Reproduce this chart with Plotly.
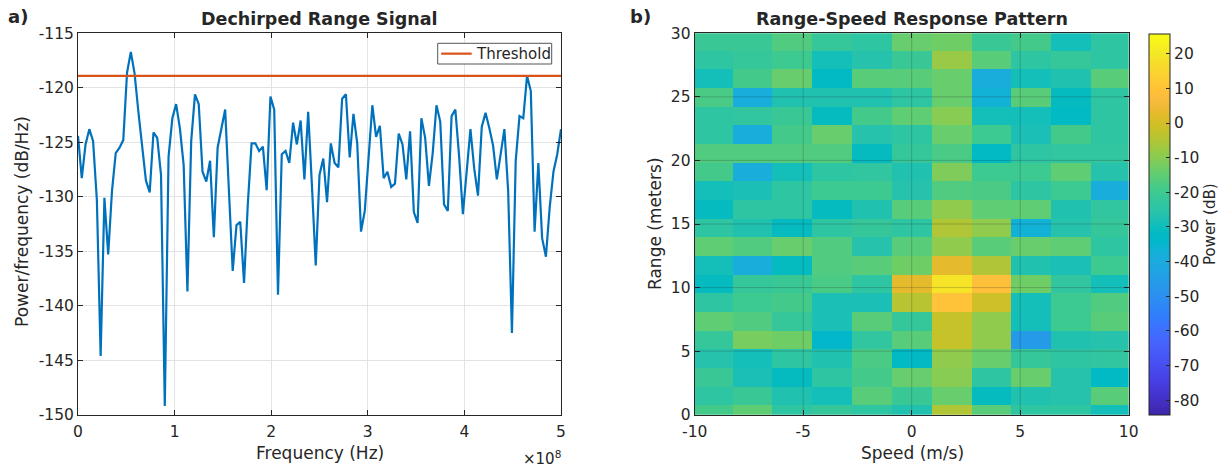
import numpy as np
import plotly.graph_objects as go

# ---------------- data ----------------
# Dechirped range spectrum (dB/Hz), 129 bins spanning 0 .. 5e8 Hz
fs_half = 5e8
psd_db = [
    -124.4, -128.3, -125.2, -123.8, -124.9, -130.3, -144.6, -130.1, -135.3, -129.5,
    -126.0, -125.5, -124.8, -118.6, -116.7, -118.7, -122.2, -125.5, -128.5, -129.6,
    -124.1, -124.6, -128.0, -149.2, -126.3, -122.8, -121.5, -123.7, -127.1, -138.7,
    -124.9, -120.6, -121.5, -127.7, -128.6, -126.7, -133.7, -125.5, -123.7, -122.0,
    -129.5, -136.8, -132.6, -132.3, -137.9, -130.7, -125.1, -125.1, -125.8, -125.4,
    -129.4, -120.8, -122.0, -139.0, -126.1, -125.8, -126.9, -123.2, -125.2, -123.0,
    -128.4, -122.2, -129.0, -136.3, -128.0, -126.5, -130.5, -125.1, -126.9, -127.3,
    -121.0, -120.6, -126.4, -122.4, -125.1, -133.2, -131.3, -126.7, -121.6, -124.5,
    -123.5, -128.3, -127.7, -129.1, -128.8, -124.2, -125.2, -128.4, -124.0, -131.4,
    -132.4, -122.8, -124.6, -129.0, -126.0, -121.6, -123.1, -130.7, -131.3, -122.6,
    -122.0, -126.3, -131.6, -127.7, -123.8, -127.4, -129.9, -123.6, -122.3, -123.7,
    -125.3, -128.4, -126.0, -123.8, -129.5, -142.5, -126.7, -122.6, -122.8, -118.9,
    -120.3, -133.2, -126.9, -133.8, -135.5, -131.0, -127.7, -126.1, -123.8,
]
threshold_db = -118.9
threshold_name = "Threshold"
freq_hz = np.linspace(0, fs_half, len(psd_db))

freq_ticks = [0, 1e8, 2e8, 3e8, 4e8, 5e8]
freq_ticklabels = ["0", "1", "2", "3", "4", "5"]
psd_ticks = [-150, -145, -140, -135, -130, -125, -120, -115]

# Range-speed response (dB); rows ordered by increasing range, columns by speed
speed_step = 1.834
range_step = 1.468
speed_bins = [k * speed_step for k in range(-5, 6)]
range_bins = [r * range_step for r in range(21)]
response_db = [
    [-19, -15, -24, -22, -24, -27, -5, -16, -24, -24, -29],   # 0.0 m
    [-24, -21, -27, -29, -16, -21, -14, -31, -27, -26, -16],
    [-21, -28, -31, -24, -19, -14, -10, -24, -14, -26, -32],
    [-26, -29, -24, -27, -18, -32, -9, -14, -22, -24, -23],
    [-22, -12, -13, -34, -23, -16, -2, -9, -46, -27, -26],
    [-15, -17, -22, -28, -16, -22, -2, -9, -29, -20, -16],   # 7.3 m
    [-24, -20, -19, -28, -28, -4, 10, -1, -29, -20, -17],
    [-31, -22, -21, -18, -24, 3, 19, 9, -13, -23, -29],      # 10.3 m
    [-29, -39, -31, -17, -16, -13, 3, -5, -27, -28, -20],
    [-15, -17, -14, -17, -26, -16, -9, -16, -14, -15, -24],
    [-24, -27, -31, -24, -22, -24, -5, -9, -37, -26, -22],   # 14.7 m
    [-31, -24, -24, -31, -27, -16, -9, -15, -15, -27, -23],
    [-29, -28, -24, -20, -20, -26, -17, -18, -24, -20, -39],
    [-19, -39, -29, -24, -23, -27, -11, -20, -20, -15, -26],
    [-17, -17, -17, -17, -31, -22, -18, -32, -24, -23, -23],
    [-24, -39, -19, -14, -26, -24, -14, -20, -28, -19, -24],  # 22.0 m
    [-24, -23, -21, -31, -19, -15, -10, -29, -29, -32, -24],
    [-18, -39, -27, -27, -27, -24, -14, -37, -16, -31, -24],
    [-29, -19, -14, -32, -16, -16, -14, -39, -29, -27, -16],
    [-24, -22, -20, -29, -26, -21, -8, -16, -24, -22, -24],
    [-21, -21, -17, -22, -24, -14, -13, -21, -19, -29, -24],  # 29.4 m
]
clim = [-84.2, 25.8]
cbar_ticks = [-80, -70, -60, -50, -40, -30, -20, -10, 0, 10, 20]
speed_ticks = [-10, -5, 0, 5, 10]
range_ticks = [0, 5, 10, 15, 20, 25, 30]

# parula colormap (64 entries)
parula = [
    (0.2422, 0.1504, 0.6603), (0.2504, 0.1650, 0.7076), (0.2578, 0.1818, 0.7511),
    (0.2647, 0.1978, 0.7952), (0.2706, 0.2147, 0.8364), (0.2751, 0.2342, 0.8710),
    (0.2783, 0.2559, 0.8991), (0.2803, 0.2782, 0.9221), (0.2813, 0.3006, 0.9414),
    (0.2810, 0.3228, 0.9579), (0.2795, 0.3447, 0.9717), (0.2760, 0.3667, 0.9829),
    (0.2699, 0.3892, 0.9906), (0.2602, 0.4123, 0.9952), (0.2440, 0.4358, 0.9988),
    (0.2206, 0.4603, 0.9973), (0.1963, 0.4847, 0.9892), (0.1834, 0.5074, 0.9798),
    (0.1786, 0.5289, 0.9682), (0.1764, 0.5499, 0.9520), (0.1687, 0.5703, 0.9359),
    (0.1540, 0.5902, 0.9218), (0.1460, 0.6091, 0.9079), (0.1380, 0.6276, 0.8973),
    (0.1248, 0.6459, 0.8883), (0.1113, 0.6635, 0.8763), (0.0952, 0.6798, 0.8598),
    (0.0689, 0.6948, 0.8394), (0.0297, 0.7082, 0.8163), (0.0036, 0.7203, 0.7917),
    (0.0067, 0.7312, 0.7660), (0.0433, 0.7411, 0.7394), (0.0964, 0.7500, 0.7120),
    (0.1408, 0.7584, 0.6842), (0.1717, 0.7670, 0.6554), (0.1938, 0.7758, 0.6251),
    (0.2161, 0.7843, 0.5923), (0.2470, 0.7918, 0.5567), (0.2906, 0.7973, 0.5188),
    (0.3406, 0.8008, 0.4789), (0.3909, 0.8029, 0.4354), (0.4456, 0.8024, 0.3909),
    (0.5044, 0.7993, 0.3480), (0.5616, 0.7942, 0.3045), (0.6174, 0.7876, 0.2612),
    (0.6720, 0.7793, 0.2227), (0.7242, 0.7698, 0.1910), (0.7738, 0.7598, 0.1646),
    (0.8203, 0.7498, 0.1535), (0.8634, 0.7406, 0.1596), (0.9035, 0.7330, 0.1774),
    (0.9393, 0.7288, 0.2100), (0.9728, 0.7298, 0.2394), (0.9956, 0.7434, 0.2371),
    (0.9970, 0.7659, 0.2199), (0.9952, 0.7893, 0.2028), (0.9892, 0.8136, 0.1885),
    (0.9786, 0.8386, 0.1766), (0.9676, 0.8639, 0.1643), (0.9610, 0.8890, 0.1537),
    (0.9597, 0.9135, 0.1423), (0.9628, 0.9373, 0.1265), (0.9691, 0.9606, 0.1064),
    (0.9769, 0.9839, 0.0805),
]
parula_scale = [
    [i / (len(parula) - 1), "rgb(%d,%d,%d)" % tuple(round(255 * c) for c in rgb)]
    for i, rgb in enumerate(parula)
]

# ---------------- layout geometry ----------------
W, H = 1226, 468
def px_x(p):
    return p / W
def px_y(p):
    return 1 - p / H

FONT = "DejaVu Sans"
TXT = "#262626"
AX_COLOR = "#262626"
GRID = "#e3e3e3"
TICK_SIZE = 15.5
LABEL_SIZE = 17
BLUE = "#0072BD"
ORANGE = "#D95319"

ax_bottom, ax_top = 414.7, 33.3
dom_y = [px_y(ax_bottom), px_y(ax_top)]
dom_x1 = [px_x(78), px_x(561)]
dom_x2 = [px_x(694.7), px_x(1128.7)]

fig = go.Figure()

fig.add_trace(go.Scatter(
    x=freq_hz, y=psd_db, mode="lines",
    line=dict(color=BLUE, width=2.2),
    showlegend=False, xaxis="x", yaxis="y",
))
fig.add_trace(go.Scatter(
    x=[freq_hz[0], freq_hz[-1]], y=[threshold_db, threshold_db], mode="lines",
    line=dict(color=ORANGE, width=2.2), name=threshold_name, showlegend=False,
    xaxis="x", yaxis="y",
))

fig.add_trace(go.Heatmap(
    x=speed_bins, y=range_bins, z=response_db,
    colorscale=parula_scale, zmin=clim[0], zmax=clim[1],
    xaxis="x2", yaxis="y2",
    colorbar=dict(
        x=px_x(1149.3), xanchor="left", xref="paper", xpad=0, ypad=0,
        y=dom_y[0], yanchor="bottom", yref="paper",
        len=dom_y[1] - dom_y[0], lenmode="fraction",
        thickness=20.5, thicknessmode="pixels",
        outlinecolor=AX_COLOR, outlinewidth=1,
        tickvals=cbar_ticks, ticktext=[str(v) for v in cbar_ticks],
        ticks="inside", ticklen=4, tickcolor=AX_COLOR,
        tickfont=dict(family=FONT, size=TICK_SIZE, color=TXT),
        title=dict(text="Power (dB)", side="right",
                   font=dict(family=FONT, size=15, color=TXT)),
    ),
    hoverongaps=False,
))

axis_common = dict(
    showline=True, linecolor=AX_COLOR, linewidth=1, mirror="ticks",
    ticks="inside", ticklen=5, tickcolor=AX_COLOR,
    tickfont=dict(family=FONT, size=TICK_SIZE, color=TXT),
    zeroline=False, automargin=False,
)

fig.update_layout(
    width=W, height=H,
    margin=dict(l=0, r=0, t=0, b=0, autoexpand=False),
    paper_bgcolor="white", plot_bgcolor="white",
    font=dict(family=FONT, color=TXT),
    showlegend=False,
    xaxis=dict(
        domain=dom_x1, range=[0, fs_half], tickvals=freq_ticks, ticktext=freq_ticklabels,
        showgrid=True, gridcolor=GRID, anchor="y", ticklabelstandoff=3, **axis_common,
    ),
    yaxis=dict(
        domain=dom_y, range=[-150, -115], tickvals=psd_ticks,
        ticktext=[str(v) for v in psd_ticks],
        showgrid=True, gridcolor=GRID, anchor="x", **axis_common,
    ),
    xaxis2=dict(
        domain=dom_x2, range=[-10, 10], tickvals=speed_ticks,
        ticktext=[str(v) for v in speed_ticks],
        showgrid=False, anchor="y2", ticklabelstandoff=3, **axis_common,
    ),
    yaxis2=dict(
        domain=dom_y, range=[0, 30], tickvals=range_ticks,
        showgrid=False, anchor="x2", **axis_common,
    ),
)

shapes = []
# grid lines drawn over the image
for v in speed_ticks[1:-1]:
    shapes.append(dict(type="line", xref="x2", yref="y2", x0=v, x1=v, y0=0, y1=30,
                       line=dict(color="rgba(30,30,30,0.22)", width=1), layer="above"))
for v in range_ticks[1:-1]:
    shapes.append(dict(type="line", xref="x2", yref="y2", x0=-10, x1=10, y0=v, y1=v,
                       line=dict(color="rgba(30,30,30,0.22)", width=1), layer="above"))
# legend box for the threshold line
leg_l, leg_r, leg_t, leg_b = 437.7, 551.7, 43.3, 64.0
leg_mid = (leg_t + leg_b) / 2
shapes.append(dict(type="rect", xref="paper", yref="paper",
                   x0=px_x(leg_l), x1=px_x(leg_r), y0=px_y(leg_b), y1=px_y(leg_t),
                   line=dict(color="#555555", width=1), fillcolor="white", layer="above"))
shapes.append(dict(type="line", xref="paper", yref="paper",
                   x0=px_x(leg_l + 3.5), x1=px_x(leg_l + 34), y0=px_y(leg_mid), y1=px_y(leg_mid),
                   line=dict(color=ORANGE, width=2.2), layer="above"))
fig.update_layout(shapes=shapes)

# titles, axis labels, panel letters, legend text and the axis exponent
ann = [
    dict(text="<b>Dechirped Range Signal</b>", x=px_x((78 + 561) / 2), y=px_y(19),
         xanchor="center", yanchor="middle", font=dict(size=17.5)),
    dict(text="<b>Range-Speed Response Pattern</b>", x=px_x((694.7 + 1128.7) / 2), y=px_y(19),
         xanchor="center", yanchor="middle", font=dict(size=17.5)),
    dict(text="<b>a)</b>", x=px_x(6), y=px_y(17), xanchor="left", yanchor="middle",
         font=dict(size=18)),
    dict(text="<b>b)</b>", x=px_x(628), y=px_y(17), xanchor="left", yanchor="middle",
         font=dict(size=18)),
    dict(text="Frequency (Hz)", x=px_x(319.5), y=px_y(453), xanchor="center",
         yanchor="middle", font=dict(size=LABEL_SIZE)),
    dict(text="Speed (m/s)", x=px_x(912), y=px_y(453), xanchor="center",
         yanchor="middle", font=dict(size=LABEL_SIZE)),
    dict(text="Power/frequency (dB/Hz)", x=px_x(22), y=px_y(222), xanchor="center",
         yanchor="middle", textangle=-90, font=dict(size=LABEL_SIZE)),
    dict(text="Range (meters)", x=px_x(655), y=px_y(224), xanchor="center",
         yanchor="middle", textangle=-90, font=dict(size=LABEL_SIZE)),
    dict(text="\u00d710<sup>8</sup>", x=px_x(563), y=px_y(458), xanchor="right",
         yanchor="middle", font=dict(size=15)),
    dict(text=threshold_name, x=px_x(leg_l + 36), y=px_y(leg_mid), xanchor="left",
         yanchor="middle", font=dict(size=15)),
]
for a in ann:
    a.update(xref="paper", yref="paper", showarrow=False)
    a["font"] = dict(family=FONT, color=TXT, **a["font"])
fig.update_layout(annotations=ann)

fig.write_html("out.html")
